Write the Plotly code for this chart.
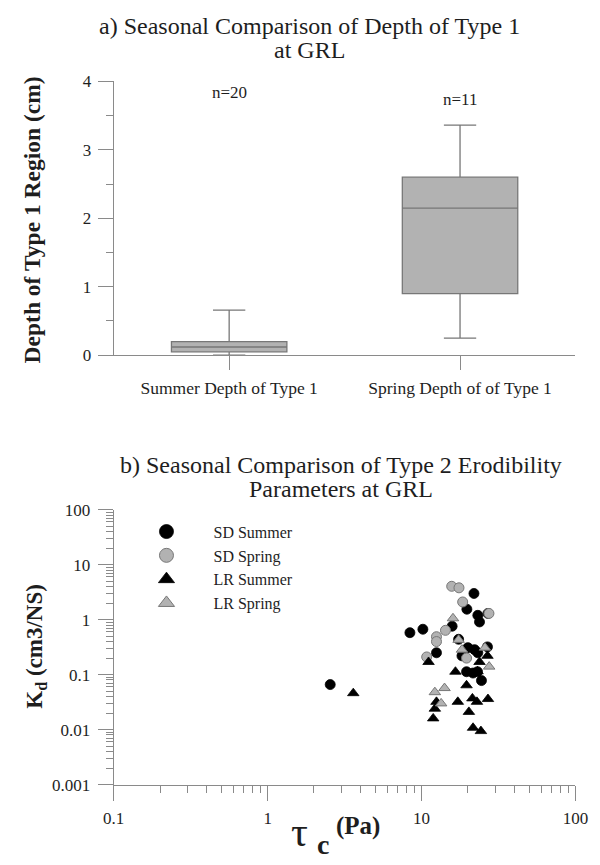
import plotly.graph_objects as go

# ---------------- data ----------------
box_categories = ["Summer Depth of Type 1", "Spring Depth of of Type 1"]
box_n_labels = ["n=20", "n=11"]
box_lower = [0.0, 0.25]
box_q1 = [0.05, 0.90]
box_median = [0.12, 2.15]
box_q3 = [0.20, 2.60]
box_upper = [0.66, 3.36]

sd_summer_tau = [2.55, 8.4, 10.2, 12.5, 15.8, 17.4, 18.3, 19.6, 19.7, 20.0,
                 21.6, 21.9, 22.1, 23.1, 23.2, 23.2, 23.8, 24.5, 26.8, 27.0]
sd_summer_kd = [0.066, 0.58, 0.67, 0.25, 0.76, 0.44, 0.22, 0.113, 1.55, 0.31,
                0.107, 3.0, 0.285, 0.113, 1.2, 0.25, 0.91, 0.078, 0.32, 1.3]

sd_spring_tau = [10.8, 12.5, 12.5, 14.3, 15.7, 17.5, 18.5, 19.6, 27.4]
sd_spring_kd = [0.21, 0.49, 0.40, 0.64, 4.05, 3.8, 2.1, 0.2, 1.3]

lr_summer_tau = [3.6, 11.1, 11.9, 12.2, 12.5, 16.6, 17.2, 19.6, 20.3, 21.4,
                 21.6, 22.9, 23.1, 23.8, 24.3, 26.8, 27.0]
lr_summer_kd = [0.046, 0.17, 0.016, 0.024, 0.032, 0.113, 0.032, 0.064, 0.021, 0.037,
                0.0108, 0.032, 0.115, 0.17, 0.0094, 0.22, 0.036]

lr_spring_tau = [12.2, 13.4, 14.1, 16.0, 17.4, 18.3, 25.8, 27.5]
lr_spring_kd = [0.048, 0.030, 0.057, 1.06, 0.43, 0.285, 0.31, 0.14]

series_names = ["SD Summer", "SD Spring", "LR Summer", "LR Spring"]

x_tickvals = [0.1, 1, 10, 100]
x_ticktext = ["0.1", "1", "10", "100"]
y_tickvals = [0.001, 0.01, 0.1, 1, 10, 100]
y_ticktext = ["0.001", "0.01", "0.1", "1", "10", "100"]
box_y_tickvals = [0, 1, 2, 3, 4]

# ---------------- styling ----------------
W, H = 600, 865
FONT = "Liberation Serif"
AX = "#8a8a8a"
TXT = "#1e1e1e"
GRAY_FILL = "#b2b2b2"
GRAY_LINE = "#777777"


def px_x(p):
    return p / W


def px_y(p):
    return 1 - p / H


fig = go.Figure()

# ---------------- top: box plot ----------------
for i, cat in enumerate(box_categories):
    fig.add_trace(go.Box(
        x=[cat], q1=[box_q1[i]], median=[box_median[i]], q3=[box_q3[i]],
        lowerfence=[box_lower[i]], upperfence=[box_upper[i]],
        width=0.5, whiskerwidth=0.28,
        fillcolor=GRAY_FILL, line=dict(color=GRAY_LINE, width=1.3),
        boxpoints=False, showlegend=False, hoverinfo="skip",
        xaxis="x", yaxis="y",
    ))

# ---------------- bottom: scatter ----------------
styles = [
    dict(symbol="circle", color="black", line=dict(color="black", width=0.8)),
    dict(symbol="circle", color=GRAY_FILL, line=dict(color=GRAY_LINE, width=1)),
    dict(symbol="triangle-up", color="black", line=dict(color="black", width=0.8)),
    dict(symbol="triangle-up", color=GRAY_FILL, line=dict(color=GRAY_LINE, width=1)),
]
series = [(sd_summer_tau, sd_summer_kd), (sd_spring_tau, sd_spring_kd),
          (lr_summer_tau, lr_summer_kd), (lr_spring_tau, lr_spring_kd)]

for name, (xs, ys), st in zip(series_names, series, styles):
    fig.add_trace(go.Scatter(
        x=xs, y=ys, mode="markers", name=name, showlegend=False,
        marker=dict(size=10, **st), xaxis="x2", yaxis="y2", legendgroup=name))
# legend-only entries (larger symbols, as in the reference key)
for name, st in zip(series_names, styles):
    fig.add_trace(go.Scatter(
        x=[None], y=[None], mode="markers", name=name, showlegend=True,
        marker=dict(size=14, **st), xaxis="x2", yaxis="y2", legendgroup=name))

minor_log = [m * 10.0 ** e for e in range(-3, 2) for m in range(2, 10)]

tickfont = dict(family=FONT, size=17, color=TXT)

fig.update_layout(
    width=W, height=H,
    margin=dict(l=0, r=0, t=0, b=0),
    paper_bgcolor="white", plot_bgcolor="white",
    font=dict(family=FONT, color=TXT),
    xaxis=dict(
        domain=[px_x(107), px_x(588)], anchor="y",
        type="category", categoryorder="array", categoryarray=box_categories,
        range=[-0.5, 1.5], showline=True, linecolor=AX, linewidth=1.2,
        ticks="outside", ticklen=14, tickcolor=AX, tickwidth=1.2,
        showgrid=False, zeroline=False,
        tickfont=dict(family=FONT, size=17.5, color=TXT), ticklabelstandoff=3,
    ),
    yaxis=dict(
        domain=[px_y(354), px_y(74)], anchor="x",
        range=[0, 4], showline=True, linecolor=AX, linewidth=1.2,
        tickmode="array", tickvals=box_y_tickvals,
        ticks="outside", ticklen=15, tickcolor=AX, tickwidth=1.2,
        minor=dict(ticks="outside", ticklen=7, tickcolor=AX, tickwidth=1.2,
                   tickmode="linear", tick0=0.5, dtick=1, showgrid=False),
        showgrid=False, zeroline=False, tickfont=tickfont, ticklabelstandoff=3,
    ),
    xaxis2=dict(
        domain=[px_x(107), px_x(588)], anchor="y2",
        type="log", range=[-1, 2], showline=True, linecolor=AX, linewidth=1.2,
        tickmode="array", tickvals=x_tickvals, ticktext=x_ticktext,
        ticks="outside", ticklen=15, tickcolor=AX, tickwidth=1.2,
        minor=dict(ticks="outside", ticklen=7, tickcolor=AX, tickwidth=1.2,
                   tickmode="array", tickvals=minor_log, showgrid=False),
        showgrid=False, zeroline=False, tickfont=tickfont, ticklabelstandoff=3,
        ticklabeloverflow="allow",
    ),
    yaxis2=dict(
        domain=[px_y(793), px_y(512)], anchor="x2",
        type="log", range=[-3, 2], showline=True, linecolor=AX, linewidth=1.2,
        tickmode="array", tickvals=y_tickvals, ticktext=y_ticktext,
        ticks="outside", ticklen=15, tickcolor=AX, tickwidth=1.2,
        minor=dict(ticks="outside", ticklen=7, tickcolor=AX, tickwidth=1.2,
                   tickmode="array", tickvals=minor_log, showgrid=False),
        showgrid=False, zeroline=False, tickfont=tickfont, ticklabelstandoff=4,
    ),
    legend=dict(
        x=px_x(113), y=px_y(517), xanchor="left", yanchor="top",
        bgcolor="rgba(0,0,0,0)", borderwidth=0,
        font=dict(family=FONT, size=16, color=TXT),
        itemwidth=84, tracegroupgap=0,
    ),
    showlegend=True,
)

title_font = dict(family=FONT, size=24, color=TXT)
annotations = [
    dict(text="a) Seasonal Comparison of Depth of Type 1", x=px_x(311), y=px_y(17), font=title_font),
    dict(text="at GRL", x=px_x(311), y=px_y(42), font=title_font),
    dict(text="b) Seasonal Comparison of Type 2 Erodibility", x=px_x(344), y=px_y(466), font=title_font),
    dict(text="Parameters at GRL", x=px_x(344), y=px_y(491), font=title_font),
    dict(text="<b>Depth of Type 1 Region (cm)</b>", textangle=-90,
         x=px_x(22), y=px_y(216), font=dict(family=FONT, size=23.5, color=TXT)),
    dict(text="<b>K<sub>d</sub> (cm3/NS)</b>", textangle=-90,
         x=px_x(26), y=px_y(651), font=dict(family=FONT, size=23, color=TXT)),
    dict(text="τ", x=px_x(301), y=px_y(841),
         font=dict(family=FONT, size=42, color=TXT)),
    dict(text="<b>c</b>", x=px_x(325), y=px_y(854),
         font=dict(family=FONT, size=28, color=TXT)),
    dict(text="<b>(Pa)</b>", x=px_x(361), y=px_y(835),
         font=dict(family=FONT, size=25, color=TXT)),
]
for i, lab in enumerate(box_n_labels):
    annotations.append(dict(text=lab, x=box_categories[i], y=[3.84, 3.74][i],
                            xref="x", yref="y",
                            font=dict(family=FONT, size=17, color=TXT)))

for a in annotations:
    a.setdefault("xref", "paper")
    a.setdefault("yref", "paper")
    a["showarrow"] = False
    a["xanchor"] = "center"
    a["yanchor"] = "middle"
fig.update_layout(annotations=annotations)

fig.write_html(
    "out.html",
    post_script="document.body.style.margin='0px';document.body.style.overflow='hidden';",
)
